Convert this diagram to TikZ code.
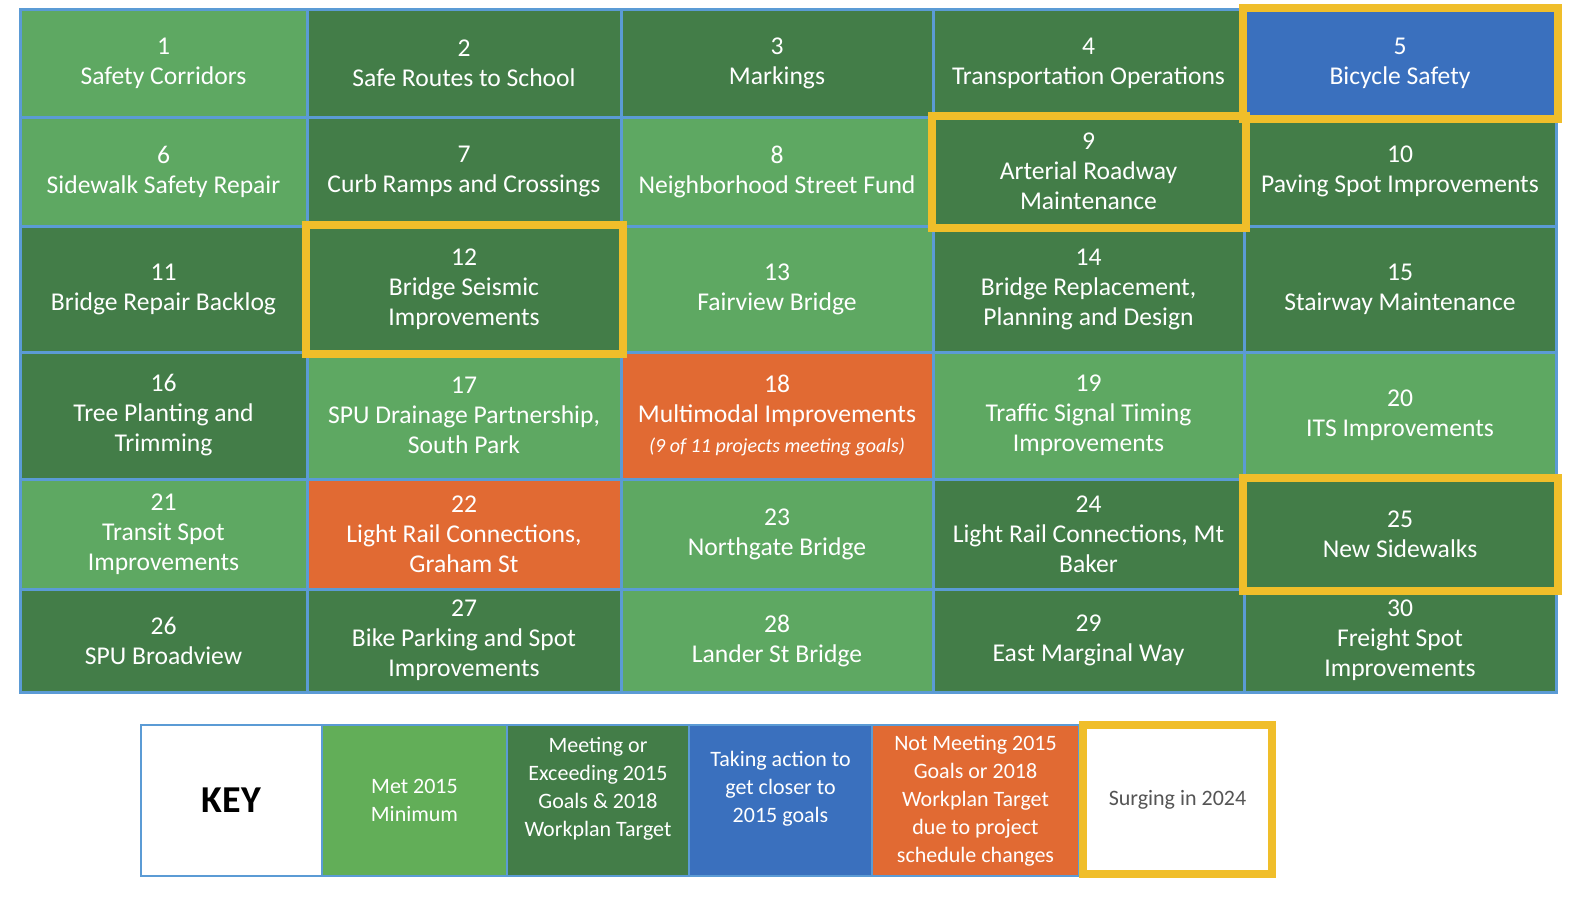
\documentclass[tikz,border=0pt]{standalone}
\usepackage{fontspec}
\setmainfont{Carlito}
\usepackage{xcolor}
\usepackage{tikz}

\begin{document}
\begin{tikzpicture}[x=0.5pt,y=-0.5pt]
    \definecolor{mylgreen}{RGB}{94,168,98}
    \definecolor{mykgreen}{RGB}{98,174,88}
    \definecolor{mydgreen}{RGB}{67,125,72}
    \definecolor{myblue}{RGB}{58,112,190}
    \definecolor{myorange}{RGB}{225,106,51}
    \definecolor{myyellow}{RGB}{240,190,42}
    \definecolor{mygrid}{RGB}{91,155,213}
    \definecolor{mygray}{RGB}{85,85,85}

    \useasboundingbox (0,0) rectangle (1580,912);

    % cell styles
    \tikzstyle{cell}=[rectangle,draw=mygrid,line width=1.5pt,inner sep=0pt,align=center,text=white,font=\fontsize{12.8}{15}\selectfont]
    \tikzstyle{lg}=[cell,fill=mylgreen]
    \tikzstyle{dg}=[cell,fill=mydgreen]
    \tikzstyle{bl}=[cell,fill=myblue]
    \tikzstyle{og}=[cell,fill=myorange]
    \tikzstyle{surge}=[draw=myyellow,line width=4pt]  % highlighted cells
    % column widths and row heights
    \tikzstyle{col1}=[minimum width=143.5pt]
    \tikzstyle{col2}=[minimum width=157pt]
    \tikzstyle{col3}=[minimum width=156pt]
    \tikzstyle{col4}=[minimum width=155.5pt]
    \tikzstyle{col5}=[minimum width=156pt]
    \tikzstyle{row1}=[minimum height=54pt]
    \tikzstyle{row2}=[minimum height=54.5pt]
    \tikzstyle{row3}=[minimum height=63pt]
    \tikzstyle{row4}=[minimum height=63.5pt]
    \tikzstyle{row5}=[minimum height=55pt]
    \tikzstyle{row6}=[minimum height=51.5pt]
    % key styles
    \tikzstyle{key}=[rectangle,draw=mygrid,line width=1pt,inner sep=0pt,align=center,text=white,minimum height=75.5pt,font=\fontsize{11}{14}\selectfont]

    % row 1
    \node[lg,col1,row1](c1) at (163.5,63){1\\Safety Corridors};
    \node[dg,col2,row1](c2) at (464,63){2\\Safe Routes to School};
    \node[dg,col3,row1](c3) at (777,63){3\\Markings};
    \node[dg,col4,row1](c4) at (1088.5,63){4\\Transportation Operations};
    \node[bl,col5,row1](c5) at (1400,63){5\\Bicycle Safety};
    % row 2
    \node[lg,col1,row2](c6) at (163.5,171.5){6\\Sidewalk Safety Repair};
    \node[dg,col2,row2](c7) at (464,171.5){7\\Curb Ramps and Crossings};
    \node[lg,col3,row2](c8) at (777,171.5){8\\Neighborhood Street Fund};
    \node[dg,col4,row2](c9) at (1088.5,171.5){9\\Arterial Roadway\\Maintenance};
    \node[dg,col5,row2](c10) at (1400,171.5){10\\Paving Spot Improvements};
    % row 3
    \node[dg,col1,row3](c11) at (163.5,289){11\\Bridge Repair Backlog};
    \node[dg,col2,row3](c12) at (464,289){12\\Bridge Seismic\\Improvements};
    \node[lg,col3,row3](c13) at (777,289){13\\Fairview Bridge};
    \node[dg,col4,row3](c14) at (1088.5,289){14\\Bridge Replacement,\\Planning and Design};
    \node[dg,col5,row3](c15) at (1400,289){15\\Stairway Maintenance};
    % row 4
    \node[dg,col1,row4](c16) at (163.5,415.5){16\\Tree Planting and\\Trimming};
    \node[lg,col2,row4](c17) at (464,415.5){17\\SPU Drainage Partnership,\\South Park};
    \node[og,col3,row4](c18) at (777,415.5){18\\Multimodal Improvements\\{\fontsize{10}{12}\selectfont\itshape (9 of 11 projects meeting goals)}};
    \node[lg,col4,row4](c19) at (1088.5,415.5){19\\Traffic Signal Timing\\Improvements};
    \node[lg,col5,row4](c20) at (1400,415.5){20\\ITS Improvements};
    % row 5
    \node[lg,col1,row5](c21) at (163.5,534){21\\Transit Spot\\Improvements};
    \node[og,col2,row5](c22) at (464,534){22\\Light Rail Connections,\\Graham St};
    \node[lg,col3,row5](c23) at (777,534){23\\Northgate Bridge};
    \node[dg,col4,row5](c24) at (1088.5,534){24\\Light Rail Connections, Mt\\Baker};
    \node[dg,col5,row5](c25) at (1400,534){25\\New Sidewalks};
    % row 6
    \node[dg,col1,row6](c26) at (163.5,640.5){26\\SPU Broadview};
    \node[dg,col2,row6](c27) at (464,640.5){27\\Bike Parking and Spot\\Improvements};
    \node[lg,col3,row6](c28) at (777,640.5){28\\Lander St Bridge};
    \node[dg,col4,row6](c29) at (1088.5,640.5){29\\East Marginal Way};
    \node[dg,col5,row6](c30) at (1400,640.5){30\\Freight Spot\\Improvements};

    % yellow frames
    \draw[surge](c5.north west) rectangle (c5.south east);
    \draw[surge](c9.north west) rectangle (c9.south east);
    \draw[surge](c12.north west) rectangle (c12.south east);
    \draw[surge](c25.north west) rectangle (c25.south east);

    % key
    \node[key,fill=white,text=black,minimum width=90.5pt,font=\fontsize{19}{22}\selectfont\bfseries](k0) at (231.5,800.5){KEY};
    \node[key,fill=mykgreen,minimum width=92.5pt](k1) at (414.5,800.5){Met 2015\\Minimum};
    \node[key,fill=mydgreen,minimum width=91pt](k2) at (598,800.5){Meeting or\\Exceeding 2015\\Goals \& 2018\\Workplan Target\\\mbox{}};
    \node[key,fill=myblue,minimum width=91.5pt](k3) at (780.5,800.5){Taking action to\\get closer to\\2015 goals\\\mbox{}};
    \node[key,fill=myorange,minimum width=103.5pt](k4) at (975.5,800.5){Not Meeting 2015\\Goals or 2018\\Workplan Target\\due to project\\schedule changes};
    \node[key,surge,fill=white,text=mygray,minimum width=94.5pt,minimum height=74.5pt](k5) at (1177.5,799.5){Surging in 2024};
\end{tikzpicture}
\end{document}
